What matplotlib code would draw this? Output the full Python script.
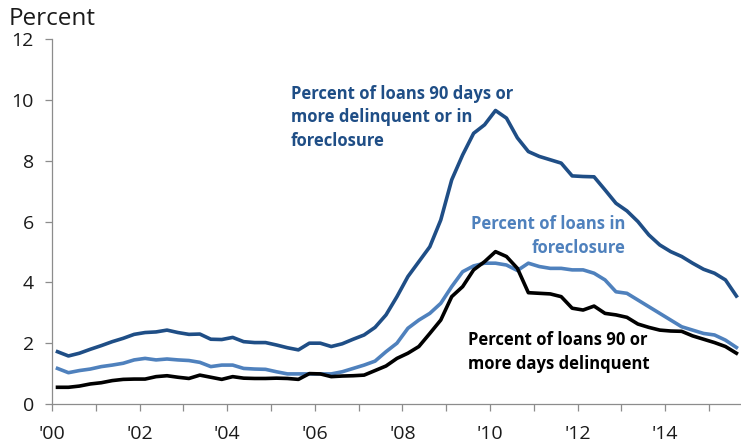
import numpy as np
import matplotlib.pyplot as plt

plt.rcParams['font.family'] = ['Open Sans', 'DejaVu Sans']

# quarterly, 2000Q1 .. 2015Q3
start_year = 2000
n_quarters = 63

delinq_or_fc = [1.72, 1.58, 1.67, 1.80, 1.92, 2.05, 2.16, 2.29,
                2.35, 2.37, 2.43, 2.35, 2.29, 2.30, 2.13, 2.12,
                2.19, 2.05, 2.02, 2.02, 1.94, 1.85, 1.78, 2.00,
                2.00, 1.89, 1.98, 2.13, 2.27, 2.52, 2.93, 3.53,
                4.19, 4.68, 5.17, 6.05, 7.37, 8.19, 8.90, 9.18,
                9.65, 9.40, 8.75, 8.30, 8.14, 8.03, 7.92, 7.50,
                7.48, 7.47, 7.04, 6.60, 6.35, 6.00, 5.56, 5.23,
                5.01, 4.85, 4.63, 4.43, 4.30, 4.08, 3.55]

foreclosure = [1.17, 1.03, 1.10, 1.15, 1.23, 1.28, 1.34, 1.45,
               1.50, 1.45, 1.48, 1.45, 1.43, 1.37, 1.23, 1.28,
               1.28, 1.17, 1.15, 1.14, 1.06, 0.99, 0.99, 0.99,
               0.99, 0.99, 1.06, 1.17, 1.28, 1.41, 1.72, 2.00,
               2.49, 2.76, 2.98, 3.31, 3.86, 4.35, 4.54, 4.63,
               4.63, 4.57, 4.39, 4.63, 4.52, 4.46, 4.46, 4.41,
               4.41, 4.30, 4.08, 3.69, 3.64, 3.42, 3.20, 2.98,
               2.76, 2.54, 2.43, 2.32, 2.27, 2.10, 1.86]

delinq_90 = [0.55, 0.55, 0.59, 0.66, 0.70, 0.77, 0.81, 0.82,
             0.82, 0.90, 0.93, 0.88, 0.84, 0.95, 0.88, 0.81,
             0.90, 0.85, 0.84, 0.84, 0.85, 0.84, 0.81, 1.00,
             0.99, 0.90, 0.92, 0.93, 0.95, 1.10, 1.25, 1.50,
             1.67, 1.89, 2.32, 2.76, 3.53, 3.86, 4.41, 4.68,
             5.01, 4.85, 4.46, 3.66, 3.64, 3.62, 3.53, 3.15,
             3.09, 3.22, 2.98, 2.93, 2.85, 2.63, 2.52, 2.43,
             2.40, 2.39, 2.24, 2.13, 2.02, 1.89, 1.67]

x_labels = ["'00", "'02", "'04", "'06", "'08", "'10", "'12", "'14"]

dark_blue = '#1F4E86'
light_blue = '#4F81BD'

t = start_year + (np.arange(n_quarters) + 0.5) / 4

fig = plt.figure(figsize=(7.41, 4.45), dpi=100)
ax = fig.add_axes([0.0702, 0.0921, 0.931, 0.8202])

ax.plot(t, delinq_or_fc, color=dark_blue, lw=2.6, solid_joinstyle='round')
ax.plot(t, foreclosure, color=light_blue, lw=2.6, solid_joinstyle='round')
ax.plot(t, delinq_90, color='black', lw=2.6, solid_joinstyle='round')

ax.set_xlim(2000, 2015.75)
ax.set_ylim(0, 12)
ax.set_yticks(range(0, 13, 2))
ax.set_xticks(range(2000, 2016))
ax.set_xticklabels([x_labels[i // 2] if i % 2 == 0 else '' for i in range(16)])

for s in ['top', 'right']:
    ax.spines[s].set_visible(False)
for s in ['left', 'bottom']:
    ax.spines[s].set_color('#8c8c8c')
    ax.spines[s].set_linewidth(0.9)
ax.tick_params(axis='both', colors='#8c8c8c', length=5, width=0.9, labelcolor='#1a1a1a', labelsize=14)
ax.tick_params(axis='x', pad=10)
ax.tick_params(axis='y', pad=8)

fig.text(0.011, 0.985, 'Percent', fontsize=17.5, color='#1a1a1a', va='top', ha='left')

ax.text(2005.45, 10.5, 'Percent of loans 90 days or\nmore delinquent or in\nforeclosure',
        color=dark_blue, fontsize=12, fontweight='bold', ha='left', va='top', linespacing=1.4)
ax.text(2013.1, 6.2, 'Percent of loans in\nforeclosure',
        color=light_blue, fontsize=12, fontweight='bold', ha='right', va='top', linespacing=1.4, multialignment='right')
ax.text(2009.5, 2.4, 'Percent of loans 90 or\nmore days delinquent',
        color='black', fontsize=12, fontweight='bold', ha='left', va='top', linespacing=1.4)

fig.savefig('out.png', dpi=100)
